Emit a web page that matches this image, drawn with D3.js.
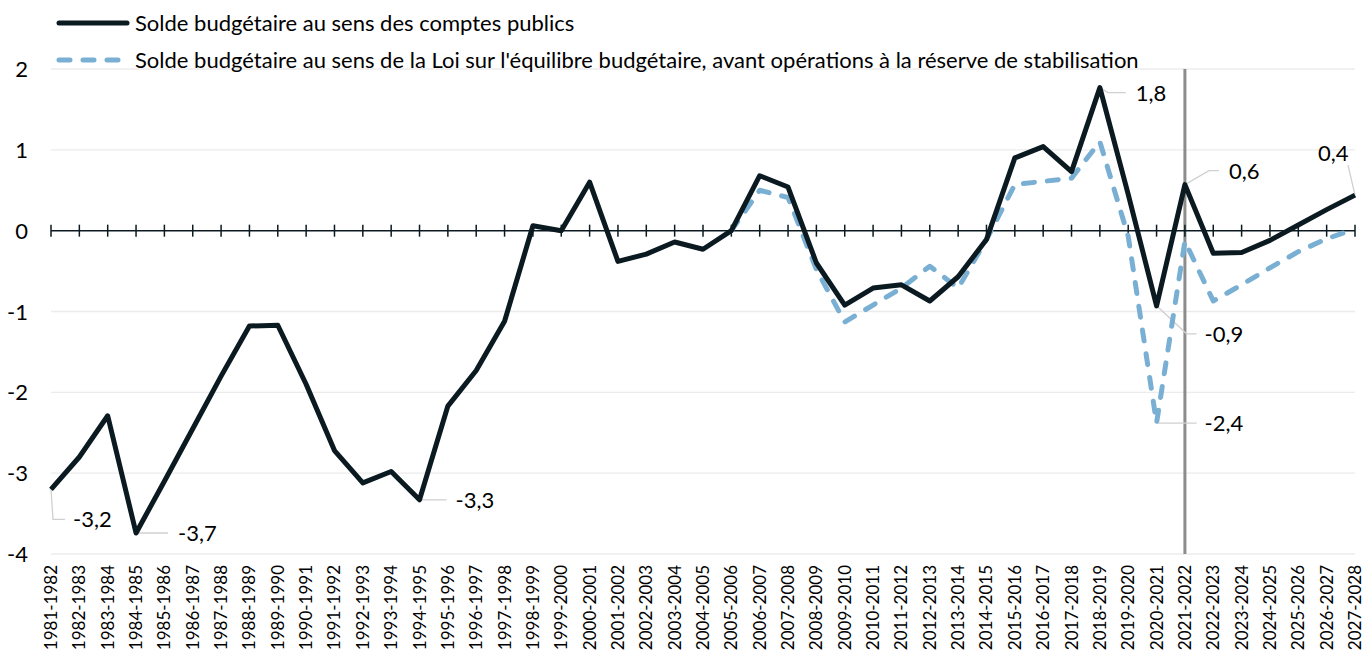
<!DOCTYPE html>
<html>
<head>
<meta charset="utf-8">
<title>Solde budgétaire</title>
<script src="https://d3js.org/d3.v7.min.js"></script>
<style>
  body { margin: 0; background: #fff; }
  text { font-family: Lato, "Open Sans", sans-serif; fill: #000; }
  .lbl { font-size: 22px; }
  .xtick { font-size: 17px; }
</style>
</head>
<body>
<svg id="chart" width="1364" height="660"></svg>
<script>
// years 1981-1982 ... 2027-2028
var annees = [];
for (var a = 1981; a <= 2027; a++) annees.push(a + "-" + (a + 1));

// solde au sens des comptes publics (G$)
var soldeComptes = [-3.2, -2.8, -2.29, -3.74, -3.1, -2.45, -1.8, -1.18, -1.17, -1.9,
  -2.72, -3.12, -2.98, -3.33, -2.17, -1.73, -1.12, 0.06, 0.0, 0.6,
  -0.38, -0.29, -0.14, -0.23, 0.0, 0.68, 0.54, -0.4, -0.92, -0.71,
  -0.67, -0.87, -0.57, -0.11, 0.9, 1.04, 0.73, 1.77, 0.45, -0.93,
  0.57, -0.28, -0.27, -0.12, 0.07, 0.26, 0.44];

// solde au sens de la LEB, avant réserve de stabilisation
var soldeLEB = [null, null, null, null, null, null, null, null, null, null,
  null, null, null, null, null, null, null, null, null, null,
  null, null, null, null, 0.0, 0.5, 0.41, -0.48, -1.13, -0.92,
  -0.71, -0.44, -0.71, -0.11, 0.57, 0.61, 0.65, 1.1, -0.07, -2.38,
  -0.13, -0.87, -0.67, -0.46, -0.26, -0.1, 0.02];

var yTicks = [-4, -3, -2, -1, 0, 1, 2];

var legende = ["Solde budgétaire au sens des comptes publics",
  "Solde budgétaire au sens de la Loi sur l'équilibre budgétaire, avant opérations à la réserve de stabilisation"];

// labelled points: index, series, text
var etiquettes = [
  {i: 0, s: "c", t: "-3,2"},
  {i: 3, s: "c", t: "-3,7"},
  {i: 13, s: "c", t: "-3,3"},
  {i: 37, s: "c", t: "1,8"},
  {i: 40, s: "c", t: "0,6"},
  {i: 39, s: "c", t: "-0,9"},
  {i: 39, s: "l", t: "-2,4"},
  {i: 46, s: "c", t: "0,4"}
];

var svg = d3.select("#chart");
var mLeft = 51, mRight = 1355, mTop = 69, mBottom = 554;

var x = d3.scalePoint().domain(annees).range([mLeft, mRight]);
var y = d3.scaleLinear().domain([-4, 2]).range([mBottom, mTop]);

var colComptes = "#0b1a21", colLEB = "#7aafd4";

// gridlines
svg.append("g").selectAll("line").data(yTicks.filter(function(d){ return d != 0; }))
  .enter().append("line")
  .attr("x1", mLeft).attr("x2", mRight)
  .attr("y1", function(d){ return y(d); }).attr("y2", function(d){ return y(d); })
  .attr("stroke", "#ececec").attr("stroke-width", 1.3);

// y labels
svg.append("g").selectAll("text").data(yTicks).enter().append("text")
  .attr("class", "lbl")
  .attr("x", 28).attr("y", function(d){ return y(d) + 8; })
  .attr("text-anchor", "end")
  .text(function(d){ return d; });

// x labels
svg.append("g").selectAll("text").data(annees).enter().append("text")
  .attr("class", "xtick")
  .attr("transform", function(d){ return "translate(" + (x(d) + 6) + ",565) rotate(-90)"; })
  .attr("text-anchor", "end")
  .text(function(d){ return d; });

// vertical line at 2021-2022
svg.append("line")
  .attr("x1", x("2021-2022")).attr("x2", x("2021-2022"))
  .attr("y1", y(2)).attr("y2", y(-4))
  .attr("stroke", "#8c8c8c").attr("stroke-width", 3);

// zero axis with ticks
var axe = svg.append("g").attr("transform", "translate(0," + y(0) + ")");
axe.append("line").attr("x1", mLeft).attr("x2", mRight)
  .attr("stroke", colComptes).attr("stroke-width", 1.5);
axe.selectAll(".tk").data(annees).enter().append("line")
  .attr("x1", function(d){ return x(d); }).attr("x2", function(d){ return x(d); })
  .attr("y1", -6).attr("y2", 6)
  .attr("stroke", colComptes).attr("stroke-width", 1.5);

// leader lines and labels
var lead = svg.append("g");
function pt(e) {
  var v = e.s == "c" ? soldeComptes[e.i] : soldeLEB[e.i];
  return [x(annees[e.i]), y(v)];
}
var pos = {
  "-3,2": [[0, 0], [2, 30], [14, 30]], // relative to point
  "-3,7": [[0, 0], [32, 0]],
  "-3,3": [[0, 0], [27, 0]],
  "1,8": [[0, 0], [8, 5], [26, 5]],
  "0,6": [[0, 0], [24, -14], [34, -14]],
  "-0,9": [[0, 0], [30, 28], [40, 28]],
  "-2,4": [[0, 0], [40, 0]],
  "0,4": [[0, 0], [-7, -30]]
};
var txtOff = {
  "-3,2": [22, 30], "-3,7": [42, 0], "-3,3": [36, 0], "1,8": [36, 5],
  "0,6": [44, -14], "-0,9": [48, 28], "-2,4": [48, 0], "0,4": [-37, -42]
};

// LEB line
var ligne = d3.line()
  .defined(function(d){ return d != null; })
  .x(function(d, i){ return x(annees[i]); })
  .y(function(d){ return y(d); });

svg.append("path").datum(soldeLEB)
  .attr("d", ligne)
  .attr("fill", "none").attr("stroke", colLEB).attr("stroke-width", 5)
  .attr("stroke-dasharray", "11,13").attr("stroke-linecap", "round")
  .attr("stroke-linejoin", "round");

svg.append("path").datum(soldeComptes)
  .attr("d", ligne)
  .attr("fill", "none").attr("stroke", colComptes).attr("stroke-width", 5)
  .attr("stroke-linejoin", "round");

etiquettes.forEach(function(e) {
  var p = pt(e);
  var pts = pos[e.t].map(function(o){ return [p[0] + o[0], p[1] + o[1]]; });
  lead.append("path").attr("d", d3.line()(pts))
    .attr("fill", "none").attr("stroke", "#d0d0d0").attr("stroke-width", 1.3);
  svg.append("text").attr("class", "lbl")
    .attr("x", p[0] + txtOff[e.t][0]).attr("y", p[1] + txtOff[e.t][1] + 8)
    .text(e.t);
});

// legend
var leg = svg.append("g");
leg.append("line").attr("x1", 59).attr("x2", 127).attr("y1", 23).attr("y2", 23)
  .attr("stroke", colComptes).attr("stroke-width", 5).attr("stroke-linecap", "round");
leg.append("line").attr("x1", 59).attr("x2", 127).attr("y1", 60).attr("y2", 60)
  .attr("stroke", colLEB).attr("stroke-width", 5).attr("stroke-linecap", "round")
  .attr("stroke-dasharray", "11,13");
leg.selectAll("text").data(legende).enter().append("text")
  .attr("class", "lbl")
  .attr("x", 135).attr("y", function(d, i){ return 31 + i * 37; })
  .text(function(d){ return d; });
</script>
</body>
</html>
